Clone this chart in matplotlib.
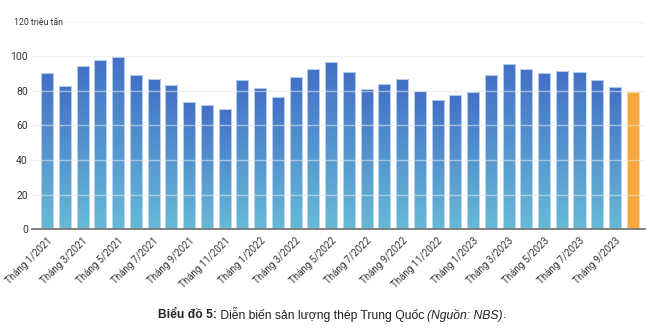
import matplotlib
matplotlib.use('Agg')
import matplotlib.pyplot as plt
import numpy as np
from matplotlib.patches import Rectangle

plt.rcParams['font.family'] = ['Roboto', 'DejaVu Sans']

# sản lượng thép Trung Quốc, triệu tấn (T1/2021 - T10/2023)
months = ['Tháng %d/%d' % (m, y) for y in (2021, 2022, 2023) for m in range(1, 13)][:34]
values = [90.5, 83.1, 94.2, 98.1, 99.6, 89.5, 87.0, 83.5, 73.8, 71.7, 69.5, 86.4,
          81.9, 76.7, 88.3, 93.0, 96.7, 90.9, 81.4, 83.9, 87.0, 79.8, 74.8, 77.9,
          79.6, 89.3, 95.9, 92.8, 90.3, 91.3, 91.1, 86.6, 82.1, 79.2]
yticks = [0, 20, 40, 60, 80, 100, 120]

fig = plt.figure(figsize=(6.52, 3.32), dpi=100)
ax = fig.add_axes([0.049, 0.310, 0.940, 0.624])

x = np.arange(len(values))
width = 0.68
grad = np.linspace(0, 1, 256).reshape(-1, 1)
cmap = matplotlib.colors.LinearSegmentedColormap.from_list('bl', ['#67bad8', '#4370c6'])

for i, v in enumerate(values):
    if i == len(values) - 1:
        ax.bar(i, v, width, color='#f5a93f', edgecolor='#fbd9a8', linewidth=0.6, zorder=2)
        continue
    r = Rectangle((i - width / 2, 0), width, v, facecolor='none', edgecolor='#c9dcf3',
                  linewidth=0.6, zorder=3)
    ax.add_patch(r)
    im = ax.imshow(grad, cmap=cmap, aspect='auto', origin='lower',
                   extent=(i - width / 2, i + width / 2, 0, v), zorder=2)
    im.set_clip_path(r)

ax.set_xlim(-0.86, 33.68)
ax.set_ylim(0, 120)
ax.set_yticks(yticks)
ax.set_yticklabels(['0', '20', '40', '60', '80', '100', ''], fontsize=7.5, color='#333333')
fig.text(14 / 652, 1 - 22 / 332, '120 triệu tấn', ha='left', va='center',
         fontsize=6.3, color='#333333')
ax.set_xticks(x[::2])
ax.set_xticklabels(months[::2], rotation=45, ha='right', rotation_mode='anchor',
                   fontsize=7, color='#333333')
ax.tick_params(axis='both', length=0, pad=3)
ax.tick_params(axis='x', pad=5)

for t in yticks[1:]:
    xs = 0.048 if t == 120 else 0.0
    ax.axhline(t, xmin=xs, color='#e6e6e6', linewidth=1.0, zorder=4, alpha=0.6)
for s in ['top', 'right', 'left']:
    ax.spines[s].set_visible(False)
ax.spines['bottom'].set_color('#777777')
ax.spines['bottom'].set_linewidth(1.3)
ax.spines['bottom'].set_zorder(5)

# chú thích bên dưới
fig.canvas.draw()
r = fig.canvas.get_renderer()
parts = [('Biểu đồ 5:', 'bold', 'normal'),
         (' Diễn biến sản lượng thép Trung Quốc ', 'normal', 'normal'),
         ('(Nguồn: NBS)', 'normal', 'italic'),
         ('.', 'normal', 'normal')]
texts = []
for s, w, st in parts:
    texts.append(fig.text(0, 315 / 332, s, fontsize=8.7, fontweight=w, style=st,
                          family=['Liberation Sans', 'DejaVu Sans'], color='#222222',
                          va='center', transform=None))
widths = [t.get_window_extent(r).width for t in texts]
x0 = 332 - sum(widths) / 2
for t, w in zip(texts, widths):
    t.set_transform(fig.transFigure)
    t.set_position((x0 / 652, 1 - 315 / 332))
    x0 += w

fig.savefig('out.png', dpi=100)
